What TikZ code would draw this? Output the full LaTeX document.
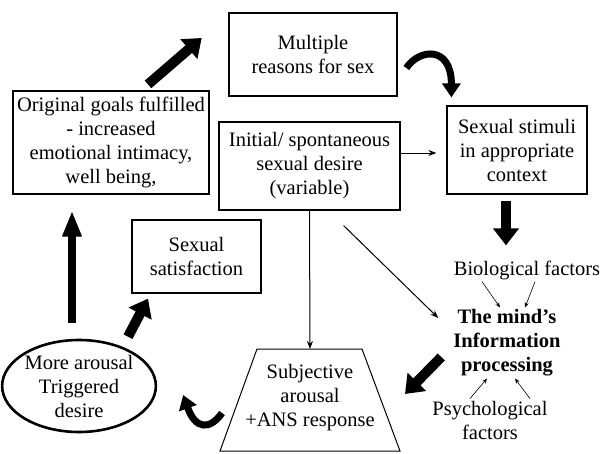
\documentclass[tikz,border=0pt]{standalone}
\usepackage{fontspec}
\setmainfont{Liberation Serif}
\usetikzlibrary{arrows.meta,shapes.geometric}

\tikzset{
    box/.style={draw, line width=1.2pt, align=center, inner sep=2pt},
    plain/.style={align=center, inner sep=2pt},
    blockarrow/.style={line width=10pt, -{Triangle[length=17pt,width=25pt]}},
    tallarrow/.style={line width=8pt, -{Triangle[length=26pt,width=18pt]}},
    curvearrow/.style={line width=7pt, -{Triangle[length=14pt,width=18pt]}},
    thinarrow/.style={line width=1pt, -{Stealth[length=8pt,width=6pt]}},
    smallarrow/.style={line width=0.6pt, -{Stealth[length=5pt,width=4pt]}}
}

\begin{document}
\begin{tikzpicture}[x=1pt, y=-1pt, font=\fontsize{20.5}{24}\selectfont]
    \useasboundingbox (0,0) rectangle (603,453);

    % Multiple reasons block
    \node[box, line width=2.6pt, minimum width=168pt, minimum height=83pt] (multi) at (313,54.5) {
        Multiple\\
        reasons for sex
    };

    % Original goals block
    \node[box, minimum width=196pt, minimum height=103pt] (goals) at (111,142.5) {
        Original goals fulfilled\\
        - increased\\
        emotional intimacy,\\
        well being,
    };

    % Initial desire block
    \node[box, minimum width=181pt, minimum height=88pt] (initial) at (309.5,166) {
        Initial/ spontaneous\\
        sexual desire\\
        (variable)
    };

    % Sexual stimuli block
    \node[box, minimum width=140pt, minimum height=88pt] (stimuli) at (517,150) {
        Sexual stimuli\\
        in appropriate\\
        context
    };

    % Sexual satisfaction block
    \node[box, minimum width=129pt, minimum height=73pt] (satisf) at (196.5,256.5) {
        Sexual\\
        satisfaction
    };

    % More arousal ellipse
    \node[draw, ellipse, line width=2.6pt, minimum width=135pt, minimum height=92pt, inner sep=0pt, align=center] (arousal) at (79,386) {
        More arousal\\
        Triggered\\
        desire
    };

    % Subjective arousal trapezium
    \node[plain] (trap) at (310,398) {
        Subjective\\
        arousal\\
        +ANS response
    };
    \draw[line width=1pt] ([shift={(-90,53)}]trap.center) -- ([shift={(-53,-49)}]trap.center)
        -- ([shift={(52,-49)}]trap.center) -- ([shift={(90,53)}]trap.center) -- cycle;

    % Mind and factors
    \node[plain] (bio) at (527,270) {Biological factors};
    \node[plain, font=\fontsize{20.5}{24}\selectfont\bfseries] (mind) at (507,343) {
        The mind's\\
        Information\\
        processing
    };
    \node[plain] (psych) at (490,420) {
        Psychological\\
        factors
    };

    % Block arrows
    \draw[blockarrow] ([shift={(37,-6)}]goals.north) -- ([shift={(-26,-16.5)}]multi.west);
    \draw[curvearrow] ([shift={(8,13.5)}]multi.east)
        .. controls ([shift={(21,-6)}]multi.east) and ([shift={(5,-60)}]stimuli.north west) .. ([shift={(5,-8)}]stimuli.north west);
    \draw[blockarrow] ([shift={(-11,6)}]stimuli.south) -- ([shift={(-21,-13)}]bio.north);
    \draw[blockarrow] ([shift={(-10,14)}]mind.west) -- ([shift={(95,-4)}]trap.center);
    \draw[curvearrow] ([shift={(-88,15)}]trap.center)
        .. controls ([shift={(-100,32)}]trap.center) and ([shift={(38.5,44)}]arousal.east) .. ([shift={(26,9)}]arousal.east);
    \draw[tallarrow] ([shift={(-7,-16)}]arousal.north) -- ([shift={(-39,16)}]goals.south);
    \draw[blockarrow] ([shift={(49,-2)}]arousal.north) -- ([shift={(-48.5,5)}]satisf.south);

    % Thin arrows
    \draw[thinarrow] ([yshift=13pt]initial.east) -- ([shift={(-10,3)}]stimuli.west);
    \draw[thinarrow] (initial.south) -- ([yshift=49pt]trap.center);
    \draw[thinarrow] ([shift={(-57,15)}]initial.south east) -- ([shift={(-13,-25)}]mind.west);

    % Factor arrows
    \draw[smallarrow] ([xshift=-45pt]bio.south) -- ([xshift=-7pt]mind.north);
    \draw[smallarrow] ([xshift=8pt]bio.south) -- ([xshift=18pt]mind.north);
    \draw[smallarrow] ([xshift=-20pt]psych.north) -- ([xshift=-20pt]mind.south);
    \draw[smallarrow] ([xshift=40pt]psych.north) -- ([xshift=8pt]mind.south);
\end{tikzpicture}
\end{document}
